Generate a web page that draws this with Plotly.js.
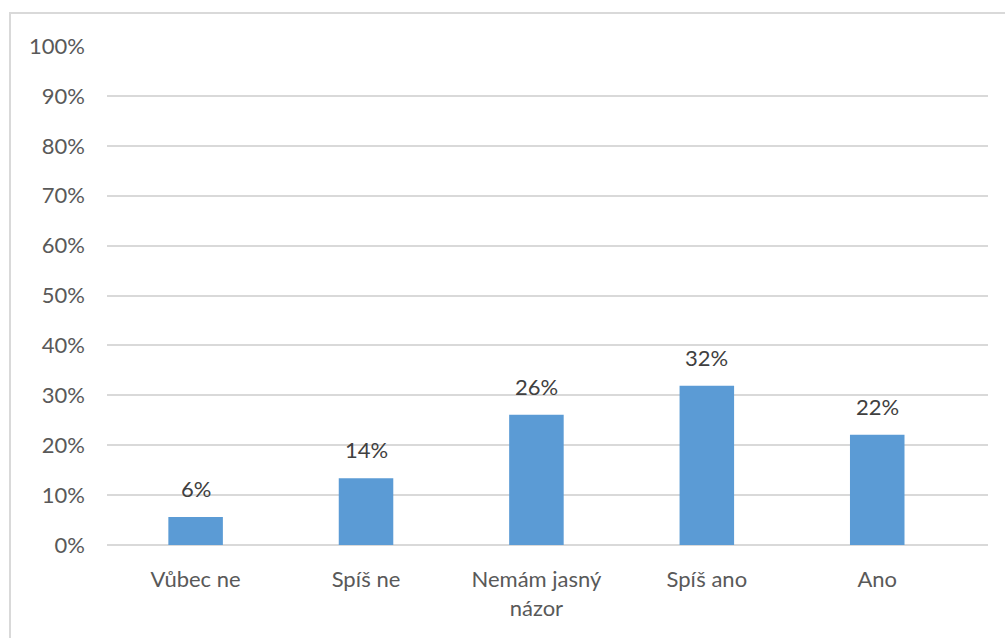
<!DOCTYPE html>
<html><head><meta charset="utf-8">
<script src="https://cdn.plot.ly/plotly-3.0.1.min.js"></script>
<style>
body{margin:0;background:#fff;overflow:hidden}
#chart{width:1005px;height:638px}
#frame{position:absolute;left:9px;top:12px;width:1100px;height:700px;border:2px solid #d9d9d9;pointer-events:none}
</style></head>
<body>
<div id="chart"></div>
<div id="frame"></div>
<script>
const categories = ["Vůbec ne", "Spíš ne", "Nemám jasný<br>názor", "Spíš ano", "Ano"];
const values = [5.6, 13.4, 26.1, 31.9, 22.1];
const valueLabels = ["6%", "14%", "26%", "32%", "22%"];
const yTickValues = [0,10,20,30,40,50,60,70,80,90,100];
const yTickLabels = yTickValues.map(v => v + "%");

const font = "Lato, 'Open Sans', sans-serif";
const trace = {
  type: "bar",
  x: categories.map((c,i)=>i),
  y: values,
  width: 0.32,
  marker: {color: "#5B9BD5"},
  hoverinfo: "none"
};
const annotations = values.map((v,i)=>({
  x: i, y: v, xref: "x", yref: "y",
  text: valueLabels[i], showarrow: false,
  yanchor: "bottom", yshift: 13,
  font: {family: font, size: 22, color: "#404040"}
}));
const layout = {
  width: 1005, height: 638,
  margin: {l: 107, r: 17, t: 46, b: 93, pad: 0},
  paper_bgcolor: "#fff", plot_bgcolor: "#fff",
  showlegend: false,
  font: {family: font, size: 22, color: "#595959"},
  xaxis: {
    range: [-0.52, 4.65],
    tickvals: categories.map((c,i)=>i),
    ticktext: categories,
    showgrid: false, zeroline: false, showline: false,
    ticks: "", ticklabelstandoff: 19,
    tickfont: {family: font, size: 22, color: "#595959"},
    fixedrange: true
  },
  yaxis: {
    range: [0, 100],
    tickvals: yTickValues, ticktext: yTickLabels,
    showgrid: true, gridcolor: "#d9d9d9", gridwidth: 2,
    zeroline: true, zerolinecolor: "#d9d9d9", zerolinewidth: 2,
    showline: false, ticks: "", ticklabelstandoff: 21,
    tickfont: {family: font, size: 22, color: "#595959"},
    fixedrange: true
  },
  annotations: annotations
};
Plotly.newPlot("chart", [trace], layout, {displayModeBar: false, staticPlot: true});
</script>
</body></html>
